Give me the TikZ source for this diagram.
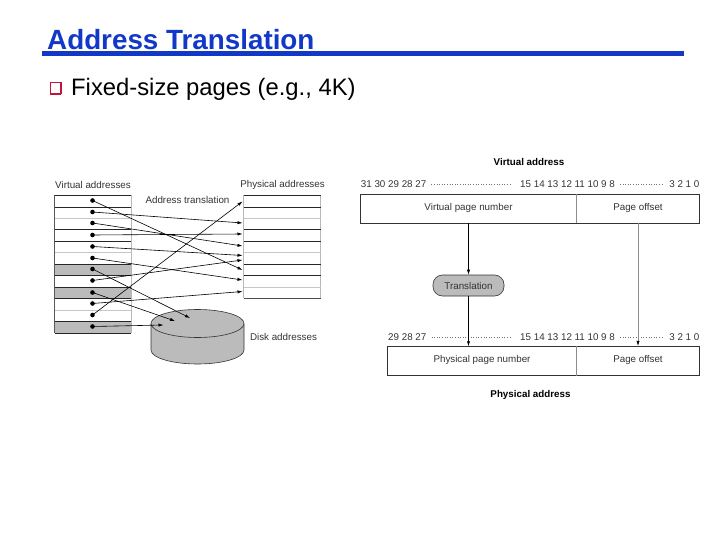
\documentclass[tikz,border=0pt]{standalone}
\usepackage{fontspec}
\usetikzlibrary{arrows.meta}
\setmainfont{Liberation Sans}
\definecolor{titleblue}{HTML}{1238C8}
\definecolor{bulletred}{HTML}{C4143C}
\definecolor{rowgray}{HTML}{BBBBBB}
\begin{document}
\begin{tikzpicture}[x=1pt, y=-1pt,
    lbl/.style={font=\fontsize{9.8pt}{11pt}\selectfont, inner sep=0pt, text=black!80},
    boldlbl/.style={lbl, font=\fontsize{9.8pt}{11pt}\selectfont\bfseries, text=black},
    ptr/.style={-{Latex[length=5pt,width=3.2pt,black]}, black, line width=0.6pt},
    lightptr/.style={ptr, black!45},
    dotnode/.style={circle, fill=black, inner sep=0pt, minimum size=4.6pt},
    rowline/.style={black!85, line width=0.7pt},
    faintline/.style={black!22, line width=0.6pt},
    sideline/.style={black!28, line width=0.8pt},
    bitdots/.style={black!55, dotted, line width=0.6pt},
    fieldbox/.style={lbl, draw=black!80, line width=0.6pt, minimum height=29pt, text height=6.5pt, text depth=2.5pt}
]
    \useasboundingbox (0,0) rectangle (720,540);
    % Slide heading
    \node[anchor=base west, inner sep=0pt, font=\fontsize{27.8pt}{30pt}\selectfont\bfseries, text=titleblue] (heading) at (47,50) {Address Translation};
    \fill[titleblue] (42,51) rectangle (684,56);
    \node[draw=bulletred, fill=white, line width=1.1pt, minimum size=10.5pt, inner sep=0pt] (bullet) at (55.7,88) {};
    \draw[bulletred, line width=1.2pt] (bullet.south west) ++(0,1) -- ++(11,0);
    \node[anchor=base west, inner sep=0pt, font=\fontsize{23.8pt}{26pt}\selectfont] (item) at (71,96) {Fixed-size pages (e.g., 4K)};

    % Left part: page tables
    \fill[rowgray] (54.5,264.5) rectangle (131,275.5);
    \fill[rowgray] (54.5,287) rectangle (131,298);
    \fill[rowgray] (54.5,321.5) rectangle (131,333);
    \draw[black!65, line width=0.7pt] (54.5,195) -- (54.5,333);
    \draw[sideline] (131,195) -- (131,333);
    \foreach \y in {195,207,229,241.5,264.5,275.5,287,298,321.5,333}
        \draw[rowline] (54.5,\y) -- (131,\y);
    \foreach \y in {218.5,252.5,310}
        \draw[faintline] (54.5,\y) -- (131,\y);
    \draw[sideline] (243.5,195) -- (243.5,298);
    \draw[sideline] (320.5,195) -- (320.5,298);
    \foreach \y in {195,207,229,241.5,264.5,275.5}
        \draw[rowline] (243.5,\y) -- (320.5,\y);
    \foreach \y in {218.5,252.5,287}
        \draw[faintline] (243.5,\y) -- (320.5,\y);
    \draw[black!70, line width=0.6pt] (243.5,298) -- (320.5,298);

    % Disk
    \draw[black!80, fill=rowgray, line width=0.6pt] (151,323.5) -- (151,350) arc[start angle=180, end angle=360, x radius=46.5, y radius=-14] -- (244,323.5);
    \draw[black!80, fill=rowgray, line width=0.6pt] (197.5,323.5) ellipse[x radius=46.5, y radius=14];

    \node[lbl] (virtlabel) at (93,185) {Virtual addresses};
    \node[lbl] (physlabel) at (282.5,185) {Physical addresses};
    \node[lbl] (translabel) at (187.5,199.5) {Address translation};
    \node[lbl] (disklabel) at (283.5,337) {Disk addresses};

    % Page entries and where they point
    \foreach \n/\y in {1/200.5,2/212,3/223,4/235,5/246.5,6/258,7/269,8/280.5,9/292.5,10/303.5,11/315,12/326.5}
        \node[dotnode] (d\n) at (92.5,\y) {};
    \coordinate (p1) at (242.5,270);
    \coordinate (p2) at (242.5,223);
    \coordinate (p3) at (242.5,246);
    \coordinate (p4) at (242.5,234);
    \coordinate (p5) at (242.5,255.5);
    \coordinate (p6) at (242.5,280);
    \coordinate (p7) at (190,318);
    \coordinate (p8) at (242.5,260);
    \coordinate (p9) at (175,321);
    \coordinate (p10) at (242.5,291.5);
    \coordinate (p11) at (242.5,201.5);
    \coordinate (p12) at (163.5,325);
    \foreach \n in {1,...,12}
        \draw[ptr] (d\n.center) -- (p\n);

    % Right part: virtual address
    \node[boldlbl] (vaddr) at (529,162) {Virtual address};
    \node[lbl, anchor=west] (vhigh) at (360.7,184) {31 30 29 28 27};
    \node[lbl, anchor=west] (vmid) at (520,184) {15 14 13 12 11 10 9 8};
    \node[lbl, anchor=east] (vlow) at (699.5,184) {3 2 1 0};
    \draw[bitdots] (vhigh.east) ++(5,0) -- ([xshift=-9pt]vmid.west);
    \draw[bitdots] (vmid.east) ++(5,0) -- ([xshift=-7pt]vlow.west);
    \node[fieldbox, minimum width=216pt, minimum height=28.5pt] (vpn) at (468.5,208.75) {Virtual page number};
    \node[fieldbox, minimum width=123pt, minimum height=28.5pt] (vpo) at (638,208.75) {Page offset};
    \draw[black!45, line width=0.7pt] (vpn.north east) -- (vpn.south east);

    \node[lbl, draw=black!80, fill=rowgray, rounded corners=9.5pt, line width=0.6pt, minimum width=71pt, minimum height=21pt] (transbox) at (468.5,285.5) {Translation};

    % Physical address
    \node[lbl, anchor=west] (phigh) at (388,337) {29 28 27};
    \node[lbl, anchor=west] (pmid) at (520,337) {15 14 13 12 11 10 9 8};
    \node[lbl, anchor=east] (plow) at (699.5,337) {3 2 1 0};
    \draw[bitdots] (phigh.east) ++(5,0) -- ([xshift=-9pt]pmid.west);
    \draw[bitdots] (pmid.east) ++(5,0) -- ([xshift=-7pt]plow.west);
    \node[fieldbox, minimum width=189pt] (ppn) at (482,360.75) {Physical page number};
    \node[fieldbox, minimum width=123pt] (ppo) at (638,360.75) {Page offset};
    \draw[black!45, line width=0.7pt] (ppn.north east) -- (ppn.south east);
    \node[boldlbl] (paddr) at (530.5,395) {Physical address};

    \coordinate (ppnin) at (468.5,346.25);
    \draw[ptr] (vpn.south -| transbox.north) -- (transbox.north);
    \draw[ptr] (transbox.south) -- (ppnin);
    \draw[lightptr] (vpo.south) -- (ppo.north);
\end{tikzpicture}
\end{document}
